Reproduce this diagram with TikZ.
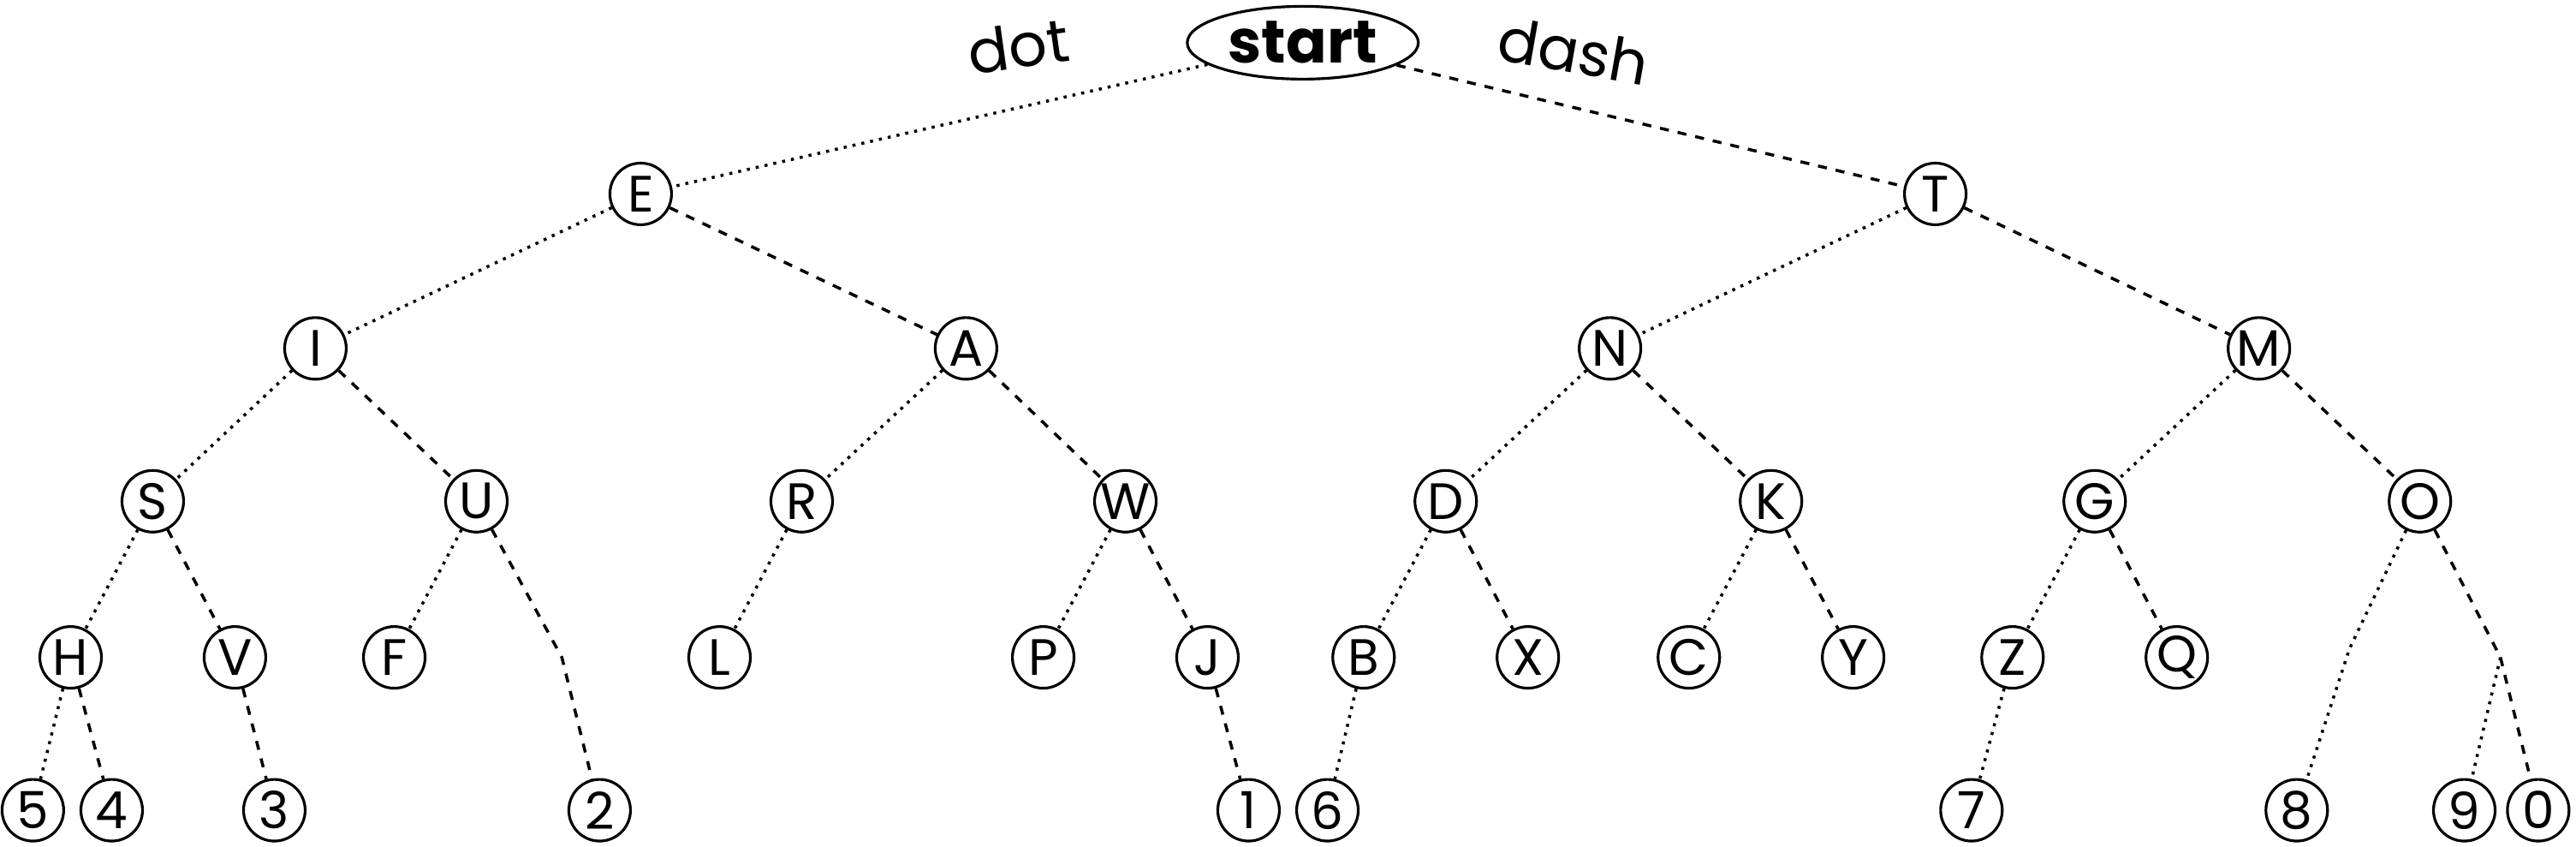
\documentclass[tikz,border=0pt]{standalone}
\usetikzlibrary{shapes.geometric}
\usepackage{fontspec}
\setmainfont{Poppins}
\begin{document}
\begin{tikzpicture}[x=0.01919cm,y=-0.01919cm,
 n/.style={circle,draw,line width=0.9pt,minimum size=0.72cm,inner sep=0pt,font=\fontsize{17}{17}\selectfont},
 dt/.style={dotted,line width=1pt},
 ds/.style={dashed,line width=1pt}]
\useasboundingbox (0,0) rectangle (1568,515);
\node[ellipse,draw,line width=0.9pt,minimum width=2.7cm,minimum height=0.85cm,inner sep=0pt,font=\fontsize{20}{20}\selectfont\bfseries] (st) at (793,26) {start};
\node[rotate=8,font=\fontsize{20}{20}\selectfont] (dl) at (620,28) {dot};
\node[rotate=-10,font=\fontsize{20}{20}\selectfont] (dh) at (958,31) {dash};
\foreach \nm/\x/\y in {E/390/118,T/1178/118,I/192/212,A/588/212,N/980/212,M/1375/212,
 S/93/305,U/290/305,R/488/305,W/685/305,D/880/305,K/1078/305,G/1275/305,O/1473/305,
 H/43/400,V/143/400,F/240/400,L/438/400,P/635/400,J/735/400,B/830/400,X/930/400,C/1028/400,Y/1128/400,Z/1225/400,Q/1325/400,
 5/20/493,4/68/493,3/167/493,2/365/493,1/760/493,6/808/493,7/1200/493,8/1398/493,9/1500/493,0/1545/493}
 \node[n] (n\nm) at (\x,\y) {\nm};
\coordinate (cu) at (342,400);
\coordinate (co8) at (1430,395);
\coordinate (co) at (1522,400);
\draw[dt] (st) -- (nE); \draw[ds] (st) -- (nT);
\draw[dt] (nE) -- (nI); \draw[ds] (nE) -- (nA);
\draw[dt] (nT) -- (nN); \draw[ds] (nT) -- (nM);
\draw[dt] (nI) -- (nS); \draw[ds] (nI) -- (nU);
\draw[dt] (nA) -- (nR); \draw[ds] (nA) -- (nW);
\draw[dt] (nN) -- (nD); \draw[ds] (nN) -- (nK);
\draw[dt] (nM) -- (nG); \draw[ds] (nM) -- (nO);
\draw[dt] (nS) -- (nH); \draw[ds] (nS) -- (nV);
\draw[dt] (nU) -- (nF); \draw[ds] (nU) -- (cu) -- (n2);
\draw[dt] (nR) -- (nL);
\draw[dt] (nW) -- (nP); \draw[ds] (nW) -- (nJ);
\draw[dt] (nD) -- (nB); \draw[ds] (nD) -- (nX);
\draw[dt] (nK) -- (nC); \draw[ds] (nK) -- (nY);
\draw[dt] (nG) -- (nZ); \draw[ds] (nG) -- (nQ);
\draw[dt] (nO) -- (co8) -- (n8); \draw[ds] (nO) -- (co);
\draw[dt] (co) -- (n9); \draw[ds] (co) -- (n0);
\draw[dt] (nH) -- (n5); \draw[ds] (nH) -- (n4);
\draw[ds] (nV) -- (n3);
\draw[ds] (nJ) -- (n1);
\draw[dt] (nB) -- (n6);
\draw[dt] (nZ) -- (n7);
\end{tikzpicture}
\end{document}
